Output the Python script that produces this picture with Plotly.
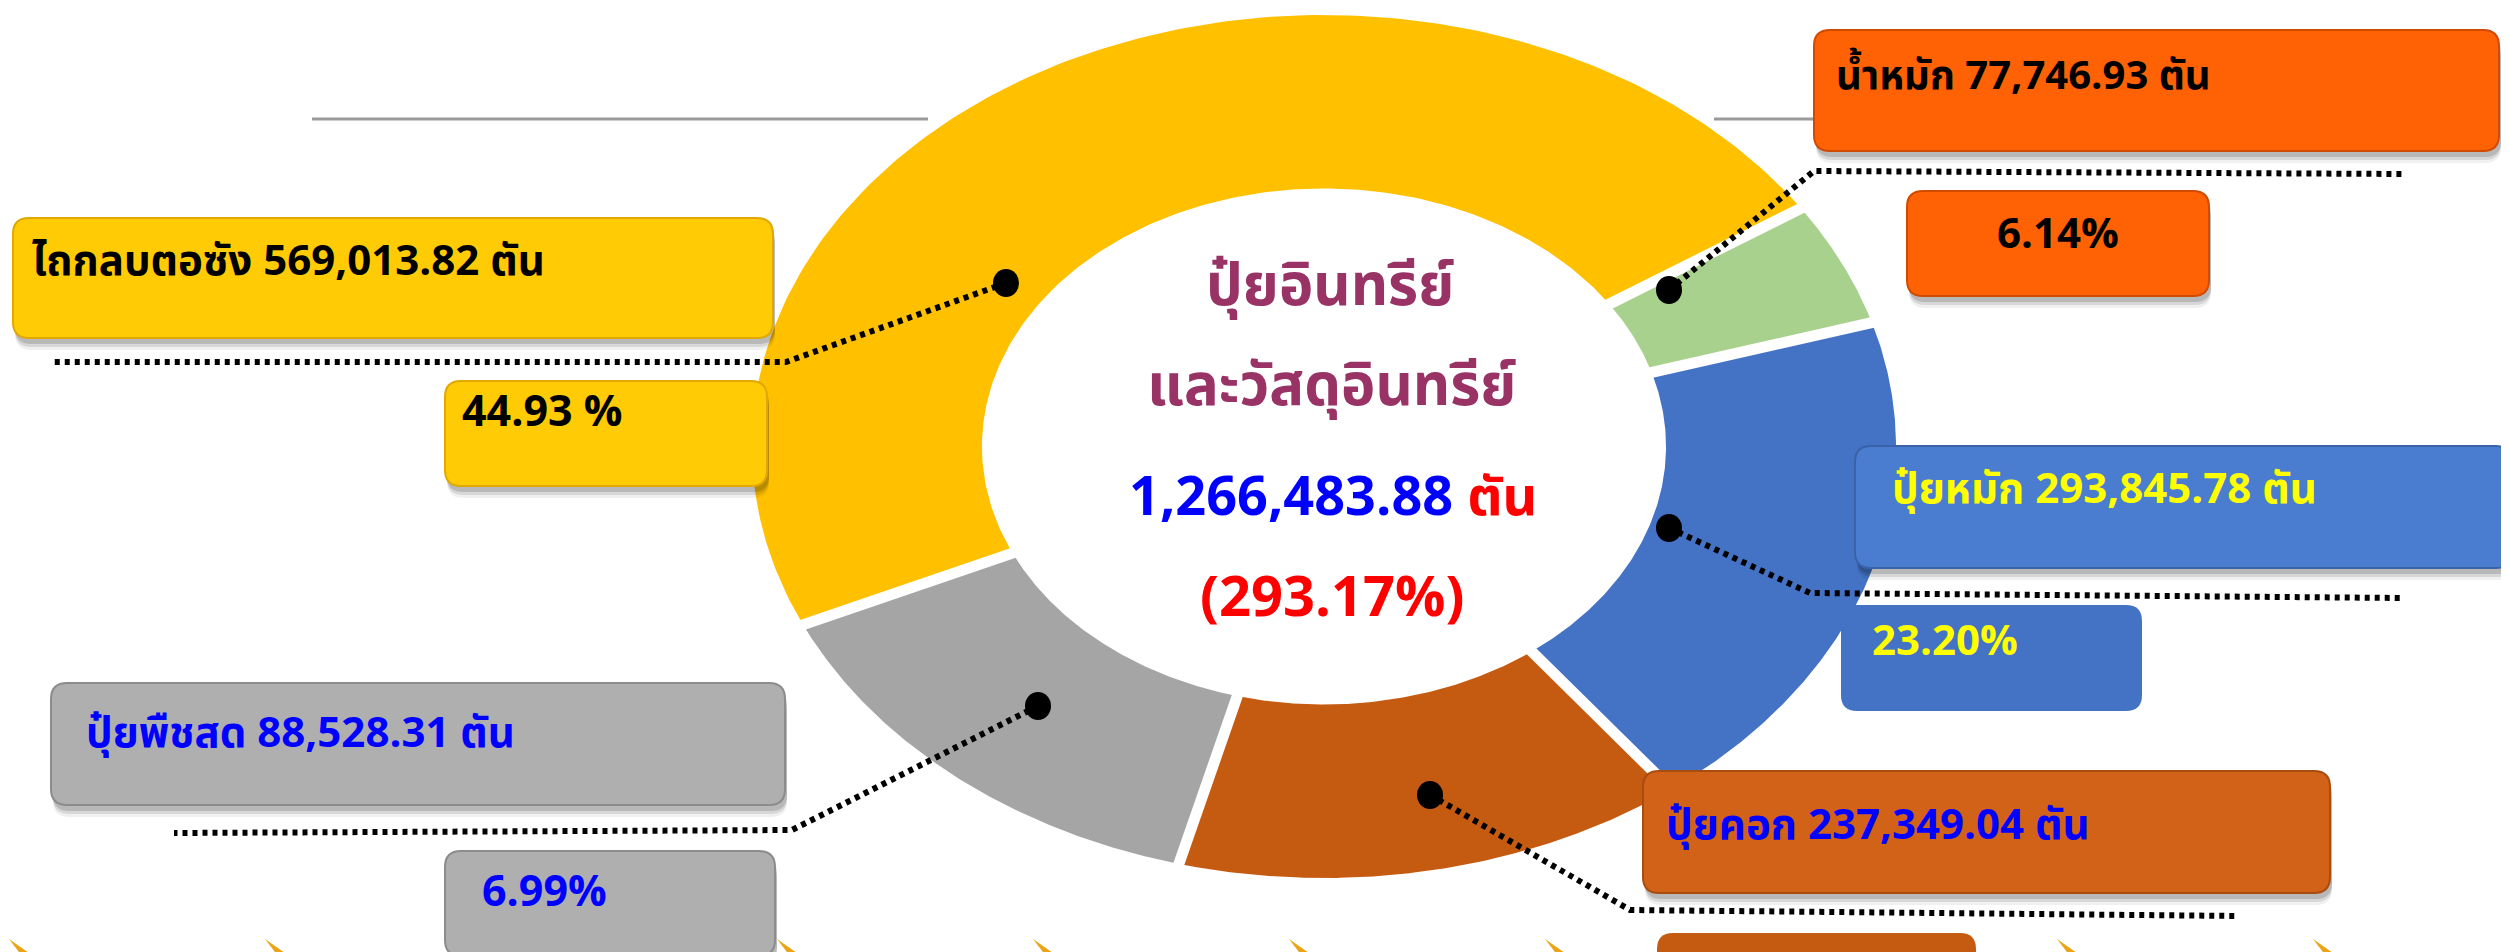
import numpy as np
import plotly.graph_objects as go

# ---------------- data ----------------
categories = ["ไถกลบตอซัง", "น้ำหมัก", "ปุ๋ยหมัก", "ปุ๋ยคอก", "ปุ๋ยพืชสด"]
tons = [569013.82, 77746.93, 293845.78, 237349.04, 88528.31]
pct_labels = ["44.93 %", "6.14%", "23.20%", "18.74%", "6.99%"]
# arc shares as drawn in the picture (percent of the ring)
slice_share = [47.47, 4.67, 19.25, 14.47, 14.14]
slice_colors = ["#FFC000", "#A9D18E", "#4472C4", "#C55A11", "#A5A5A5"]
total_tons = 1266483.88
total_pct = 293.17
center_title = ["ปุ๋ยอินทรีย์", "และวัสดุอินทรีย์"]
unit = "ตัน"

# ---------------- layout geometry ----------------
W, H = 2509, 952
CX, CY = 1316, 438.5
RX, RY = 572, 431.5
HOLE = 0.598
START_DEG = 204.4  # first slice starts here (math angle), drawn clockwise

FONT = "Noto Sans Thai, Leelawadee UI, Tahoma, Noto Sans, DejaVu Sans, sans-serif"

fig = go.Figure()

# donut slices
shares = np.array(slice_share, dtype=float)
fr = shares / shares.sum()
bounds = START_DEG - 360 * np.concatenate([[0], np.cumsum(fr)])
for i, cat in enumerate(categories):
    a1, a2 = np.radians(bounds[i]), np.radians(bounds[i + 1])
    t = np.linspace(a1, a2, 200)
    xo = CX + RX * np.cos(t)
    yo = CY - RY * np.sin(t)
    xi = CX + RX * HOLE * np.cos(t[::-1])
    yi = CY - RY * HOLE * np.sin(t[::-1])
    fig.add_trace(go.Scatter(
        x=np.concatenate([xo, xi, xo[:1]]), y=np.concatenate([yo, yi, yo[:1]]),
        fill="toself", fillcolor=slice_colors[i], mode="lines",
        line=dict(width=0, color=slice_colors[i]), hoverinfo="text",
        text=f"{cat} {tons[i]:,.2f} {unit}", showlegend=False))

# white gaps between slices
gx, gy = [], []
for b in bounds[:-1]:
    a = np.radians(b)
    gx += [CX + RX * (HOLE - 0.05) * np.cos(a), CX + RX * 1.05 * np.cos(a), None]
    gy += [CY - RY * (HOLE - 0.05) * np.sin(a), CY - RY * 1.05 * np.sin(a), None]
fig.add_trace(go.Scatter(x=gx, y=gy, mode="lines", line=dict(color="white", width=11),
                         hoverinfo="skip", showlegend=False))

shapes = []


def rrect(x0, y0, x1, y1, r=16):
    return (f"M {x0 + r},{y0} L {x1 - r},{y0} Q {x1},{y0} {x1},{y0 + r} "
            f"L {x1},{y1 - r} Q {x1},{y1} {x1 - r},{y1} L {x0 + r},{y1} "
            f"Q {x0},{y1} {x0},{y1 - r} L {x0},{y0 + r} Q {x0},{y0} {x0 + r},{y0} Z")


def box(x0, y0, x1, y1, fill, edge, shadow=True):
    if shadow:
        for k, a in [(12, 0.06), (9, 0.10), (6, 0.14)]:
            shapes.append(dict(type="path", path=rrect(x0 + 2, y0 + k, x1 + 2, y1 + k),
                               fillcolor=f"rgba(0,0,0,{a})", line=dict(width=0),
                               xref="x", yref="y", layer="above"))
    shapes.append(dict(type="path", path=rrect(x0, y0, x1, y1), fillcolor=fill,
                       line=dict(color=edge, width=2 if shadow else 0),
                       xref="x", yref="y", layer="above"))


# gray lines at the top
shapes.append(dict(type="line", x0=304, x1=920, y0=111, y1=111, xref="x", yref="y",
                   line=dict(color="#9A9A9A", width=3), layer="below"))
shapes.append(dict(type="line", x0=1706, x1=1810, y0=111, y1=111, xref="x", yref="y",
                   line=dict(color="#9A9A9A", width=3), layer="below"))

# decorative golden spikes along the bottom
for k in range(10):
    x0 = 1 + 256 * k
    shapes.append(dict(type="path",
                       path=f"M {x0},{931} L {x0 + 30},{952} L {x0 + 16},{952} Z",
                       fillcolor="#E9A514", line=dict(width=0), xref="x", yref="y",
                       layer="below"))

# boxes
box(5, 210, 765, 330, "#FFCB05", "#E0A800")
box(437, 373, 759, 478, "#FFCB05", "#E0A800")
box(1806, 22, 2491, 143, "#FF6105", "#D04A00")
box(1899, 183, 2201, 288, "#FF6105", "#D04A00")
box(1847, 438, 2504, 560, "#4A7DCF", "#3A62A8")
box(1833, 597, 2134, 703, "#4472C4", "#4472C4", shadow=False)
box(1635, 763, 2322, 885, "#D26217", "#A84C10")
box(1649, 925, 1968, 1010, "#C55A11", "#C55A11", shadow=False)
box(43, 675, 777, 797, "#AFAFAF", "#8C8C8C")
box(437, 843, 767, 948, "#AFAFAF", "#8C8C8C")

# leader lines (callouts)
leaders = [
    [(998, 275), (778, 354), (46, 354)],
    [(1661, 282), (1806, 163), (2394, 166)],
    [(1661, 520), (1802, 585), (2394, 590)],
    [(1422, 787), (1622, 902), (2230, 908)],
    [(1030, 698), (784, 822), (166, 825)],
]
for pts in leaders:
    p = "M " + " L ".join(f"{x},{y}" for x, y in pts)
    shapes.append(dict(type="path", path=p, xref="x", yref="y", layer="above",
                       line=dict(color="black", width=6, dash="5px,5px")))
    x, y = pts[0]
    shapes.append(dict(type="circle", x0=x - 13, x1=x + 13, y0=y - 14, y1=y + 14,
                       xref="x", yref="y", fillcolor="black", line=dict(width=0),
                       layer="above"))

ann = []


def txt(x, y, s, color, size, anchor="left", bold=True):
    ann.append(dict(x=x, y=y, xref="x", yref="y", text=(f"<b>{s}</b>" if bold else s),
                    showarrow=False, xanchor=anchor, yanchor="middle",
                    font=dict(family=FONT, size=size, color=color)))


lab = [f"{c} {v:,.2f} {unit}" for c, v in zip(categories, tons)]
txt(22, 254, lab[0], "black", 42)
txt(452, 404, pct_labels[0], "black", 43)
txt(1826, 69, lab[1], "black", 40)
txt(2050, 227, pct_labels[1], "black", 42, anchor="center")
txt(1882, 482, lab[2], "#FFFF00", 42)
txt(1862, 634, pct_labels[2], "#FFFF00", 42)
txt(1656, 818, lab[3], "#0000FF", 42)
txt(76, 726, lab[4], "#0000FF", 42)
txt(472, 884, pct_labels[4], "#0000FF", 43)

# centre text
txt(1322, 279, center_title[0], "#993366", 58, anchor="center")
txt(1323, 379, center_title[1], "#993366", 58, anchor="center")
txt(1325, 490, f"<span style='color:#0000FF'>{total_tons:,.2f}</span> "
               f"<span style='color:#FF0000'>{unit}</span>", "#0000FF", 54,
    anchor="center")
txt(1324, 591, f"({total_pct:.2f}%)", "#FF0000", 56, anchor="center")

fig.update_layout(
    width=W, height=H, margin=dict(l=0, r=0, t=0, b=0),
    paper_bgcolor="white", plot_bgcolor="white",
    xaxis=dict(range=[0, W], visible=False, fixedrange=True),
    yaxis=dict(range=[H, 0], visible=False, fixedrange=True),
    shapes=shapes, annotations=ann, showlegend=False,
)
fig.write_html("out.html")
